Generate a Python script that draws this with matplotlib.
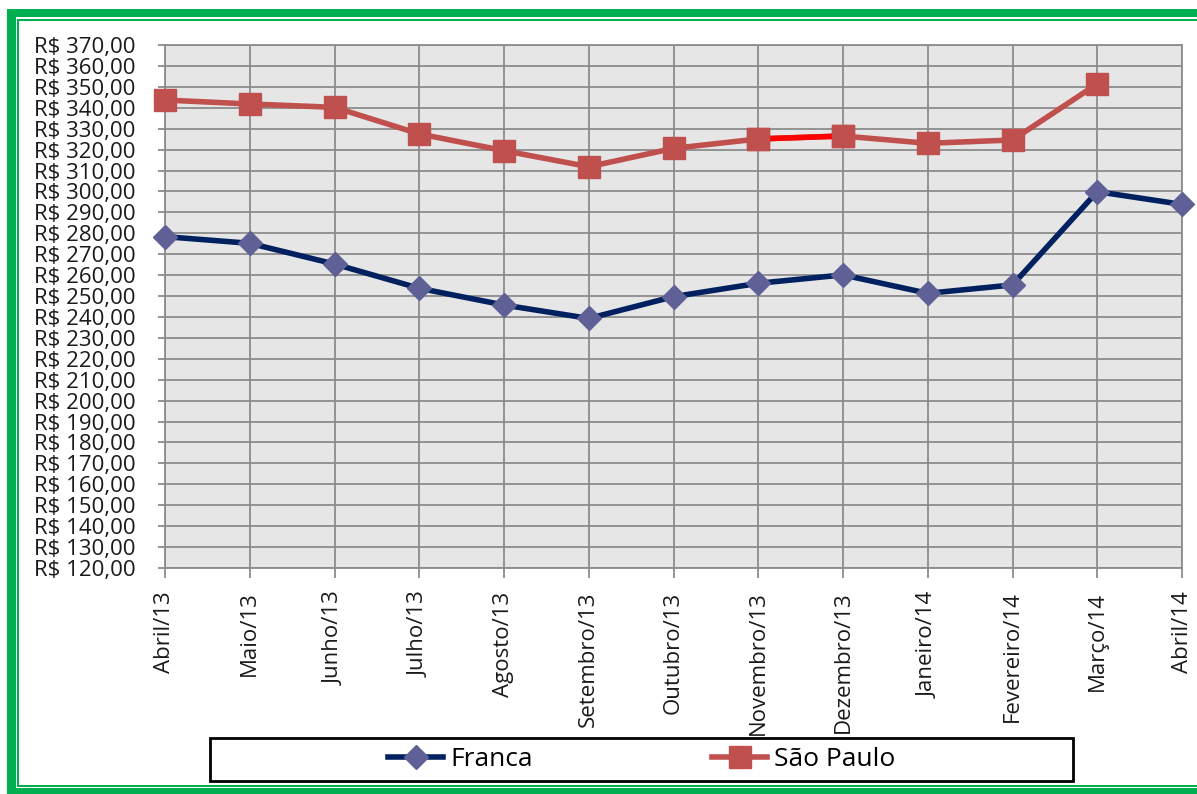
import matplotlib
matplotlib.use("Agg")
import matplotlib.pyplot as plt
from matplotlib import font_manager
from matplotlib.patches import Rectangle
from matplotlib.lines import Line2D

# ---- data ----
categories = ["Abril/13", "Maio/13", "Junho/13", "Julho/13", "Agosto/13", "Setembro/13",
              "Outubro/13", "Novembro/13", "Dezembro/13", "Janeiro/14", "Fevereiro/14",
              "Março/14", "Abril/14"]
franca = [278.4, 275.2, 265.3, 253.7, 245.7, 239.3, 249.7, 256.1, 260.1, 251.3, 255.3, 299.9, 293.8]
sao_paulo = [343.7, 341.8, 340.2, 327.5, 319.5, 311.8, 320.6, 325.1, 326.5, 323.0, 324.6, 351.4, None]
y_ticks = list(range(120, 371, 10))
y_tick_labels = ["R$ %d,00" % v for v in y_ticks]
series_names = ["Franca", "São Paulo"]

avail = {f.name for f in font_manager.fontManager.ttflist}
fam = [f for f in ["Liberation Sans Narrow", "Open Sans", "DejaVu Sans"] if f in avail]
plt.rcParams['font.family'] = fam

W, H = 1197, 794
fig = plt.figure(figsize=(W / 100, H / 100), dpi=100)
fig.patch.set_facecolor("white")

def px(x0, y0, x1, y1):
    return (x0 / W, 1 - y1 / H, (x1 - x0) / W, (y1 - y0) / H)

# green frame
green = "#00B050"
for (x0, y0, x1, y1) in [(7, 9, 1197, 17), (7, 9, 16, 794), (7, 788, 1197, 794)]:
    l, b, w, h = px(x0, y0, x1, y1)
    fig.add_artist(Rectangle((l, b), w, h, transform=fig.transFigure, color=green, lw=0, zorder=0))
for (x0, y0, x1, y1) in [(17, 19, 1197, 21), (17, 19, 19, 787), (17, 785, 1197, 787)]:
    l, b, w, h = px(x0, y0, x1, y1)
    fig.add_artist(Rectangle((l, b), w, h, transform=fig.transFigure, color=green, lw=0, zorder=0))

ax = fig.add_axes(px(165, 45, 1182, 568))
ax.set_facecolor("#E6E6E6")
x = list(range(len(categories)))

fr_style = dict(color="#002060", lw=4, marker="D", markersize=12.5,
                markerfacecolor="#5F6096", markeredgecolor="#5F6096")
sp_style = dict(color="#C0504D", lw=4, marker="s", markersize=15.5,
                markerfacecolor="#C0504D", markeredgecolor="#C0504D")

ax.plot(x, franca, zorder=3, clip_on=False, **fr_style)
sp_x = [i for i, v in enumerate(sao_paulo) if v is not None]
sp_y = [sao_paulo[i] for i in sp_x]
ax.plot(sp_x, sp_y, zorder=3, clip_on=False, **sp_style)
# highlighted segment Nov -> Dez
ax.plot([7, 8], [sao_paulo[7], sao_paulo[8]], color="#FF0000", lw=4, zorder=3.5)
ax.plot([7, 8], [sao_paulo[7], sao_paulo[8]], ls="none", marker="s", markersize=15.5,
        markerfacecolor="#C0504D", markeredgecolor="#C0504D", zorder=4)

ax.set_xlim(0, len(categories) - 1)
ax.set_ylim(120, 370)
ax.set_yticks(y_ticks)
ax.set_yticklabels(y_tick_labels, fontsize=16, color="#1a1a1a")
ax.set_xticks(x)
ax.set_xticklabels(categories, rotation=90, fontsize=16, color="#1a1a1a")
ax.grid(True, color="#8C8C8C", lw=1.3)
ax.set_axisbelow(True)
ax.tick_params(axis="y", length=5, color="#8C8C8C", width=1.3, pad=16)
ax.tick_params(axis="x", length=7, color="#8C8C8C", width=1.3, pad=10)
for s in ["left", "bottom", "right", "top"]:
    ax.spines[s].set_color("#8C8C8C")
    ax.spines[s].set_linewidth(1.3)

# legend box
l, b, w, h = px(210, 738, 1073, 781)
fig.add_artist(Rectangle((l, b), w, h, transform=fig.transFigure, facecolor="white",
                         edgecolor="black", lw=2, zorder=5))
handles = [Line2D([], [], **fr_style), Line2D([], [], **sp_style)]
leg = fig.legend(handles, series_names, loc="center", bbox_to_anchor=(l + w / 2, b + h / 2),
                 ncol=2, fontsize=19, frameon=False, handlelength=2.1, handletextpad=0.25,
                 columnspacing=6.8, borderaxespad=0, borderpad=0)
leg.set_zorder(6)

fig.savefig("out.png", dpi=100, facecolor="white")
